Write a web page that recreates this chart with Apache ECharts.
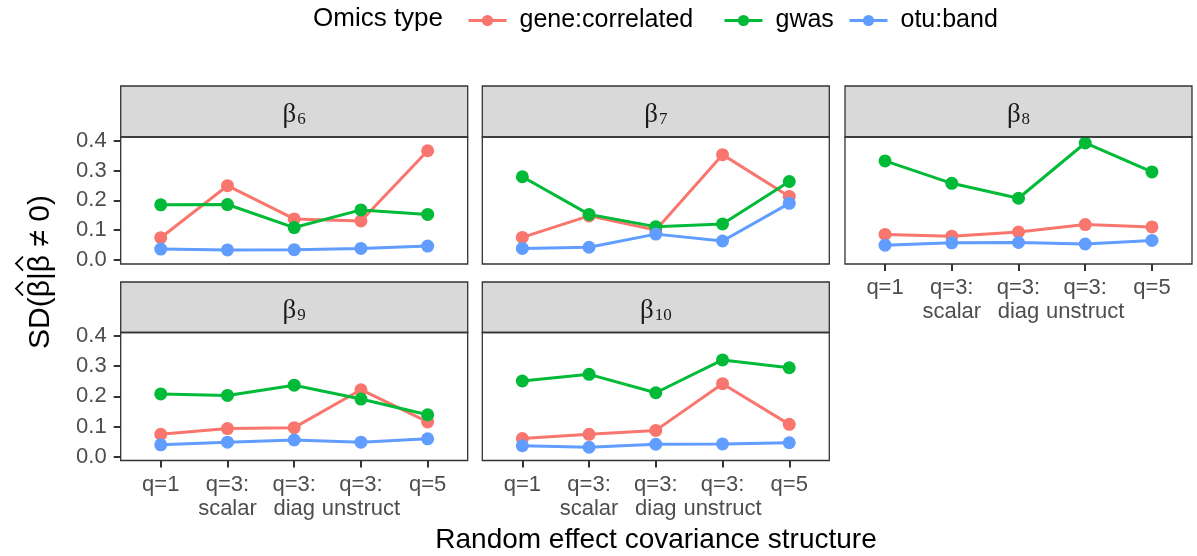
<!DOCTYPE html>
<html>
<head>
<meta charset="utf-8">
<title>SD of beta</title>
<script src="https://cdn.jsdelivr.net/npm/echarts@6/dist/echarts.min.js"></script>
<style>
  html, body { margin: 0; padding: 0; background: #fff; }
  #chart { width: 1197px; height: 556px; }
</style>
</head>
<body>
<div id="chart"></div>
<script>
// categories on the x axis
var categories = ['q=1', 'q=3:\nscalar', 'q=3:\ndiag', 'q=3:\nunstruct', 'q=5'];
// facet labels (beta subscripts)
var panelNames = ['6', '7', '8', '9', '10'];
var omicsTypes = ['gene:correlated', 'gwas', 'otu:band'];
var yTicks = [0, 0.1, 0.2, 0.3, 0.4];

// one row per panel, one value per category
var geneCorrelated = [
  [0.075, 0.249, 0.138, 0.131, 0.366],
  [0.076, 0.148, 0.101, 0.353, 0.213],
  [0.086, 0.080, 0.094, 0.119, 0.111],
  [0.074, 0.093, 0.096, 0.222, 0.115],
  [0.060, 0.074, 0.087, 0.242, 0.107]
];
var gwas = [
  [0.185, 0.186, 0.109, 0.168, 0.153],
  [0.279, 0.153, 0.112, 0.121, 0.263],
  [0.332, 0.257, 0.207, 0.392, 0.295],
  [0.208, 0.203, 0.237, 0.191, 0.139],
  [0.251, 0.273, 0.212, 0.321, 0.295]
];
var otuBand = [
  [0.037, 0.034, 0.035, 0.039, 0.047],
  [0.039, 0.043, 0.087, 0.064, 0.190],
  [0.050, 0.058, 0.059, 0.054, 0.066],
  [0.039, 0.048, 0.055, 0.048, 0.059],
  [0.036, 0.031, 0.041, 0.042, 0.046]
];

var colors = ['#F8766D', '#00BA38', '#619CFF'];
var seriesValues = [geneCorrelated, gwas, otuBand];

// layout of the facet grid (ggplot-like expansion on both axes)
var panelLefts = [120.7, 482.3, 845];
var panelW = 347;
var stripTops = [86, 282];
var stripBottoms = [137, 332.5];
var panelBottoms = [264, 460.5];
var yMin = -0.013, yMax = 0.412;
var font = "'Liberation Sans', Arial, sans-serif";
var xTicks = categories.map(function (c, k) { return k; });

var grids = [], xAxes = [], yAxes = [], series = [], graphics = [];

panelNames.forEach(function (name, i) {
  var row = i < 3 ? 0 : 1;
  var col = i % 3;
  var pl = panelLefts[col];
  var showX = i >= 2;
  var showY = col === 0;

  grids.push({
    left: pl, width: panelW,
    top: stripBottoms[row], height: panelBottoms[row] - stripBottoms[row]
  });

  xAxes.push({
    type: 'value', gridIndex: i, min: -0.6, max: categories.length - 0.4,
    axisLine: { show: false, onZero: false },
    splitLine: { show: false },
    axisTick: { show: showX, length: 7, customValues: xTicks, lineStyle: { color: '#333', width: 2 } },
    axisLabel: {
      show: showX, margin: 12, color: '#4D4D4D', fontSize: 22, fontFamily: font,
      lineHeight: 24, align: 'center', customValues: xTicks,
      formatter: function (v) { return categories[Math.round(v)] || ''; }
    }
  });

  yAxes.push({
    type: 'value', gridIndex: i, min: yMin, max: yMax,
    axisLine: { show: false, onZero: false },
    splitLine: { show: false },
    axisTick: { show: showY, length: 7, customValues: yTicks, lineStyle: { color: '#333', width: 2 } },
    axisLabel: {
      show: showY, margin: 14, color: '#4D4D4D', fontSize: 22, fontFamily: font,
      customValues: yTicks,
      formatter: function (v) { return v.toFixed(1); }
    }
  });

  omicsTypes.forEach(function (t, s) {
    series.push({
      name: t, type: 'line', xAxisIndex: i, yAxisIndex: i,
      data: seriesValues[s][i].map(function (v, k) { return [k, v]; }),
      symbol: 'circle', symbolSize: 13, clip: false,
      lineStyle: { color: colors[s], width: 3 },
      itemStyle: { color: colors[s] },
      emphasis: { disabled: true }
    });
  });

  // strip
  graphics.push({
    type: 'rect', z: 1,
    shape: { x: pl, y: stripTops[row], width: panelW, height: stripBottoms[row] - stripTops[row] },
    style: { fill: '#D9D9D9', stroke: '#333', lineWidth: 1.3 }
  });
  graphics.push({
    type: 'text', z: 2,
    x: pl + panelW / 2, y: (stripTops[row] + stripBottoms[row]) / 2 + 1,
    style: {
      text: '{b|β}{s|' + name + '}',
      align: 'center', verticalAlign: 'middle',
      rich: {
        b: { fontSize: 27, fontFamily: "'Liberation Serif', serif", fill: '#1A1A1A', lineHeight: 32, verticalAlign: 'bottom' },
        s: { fontSize: 17, fontFamily: "'Liberation Serif', serif", fill: '#1A1A1A', lineHeight: 32, verticalAlign: 'bottom', padding: [11, 0, 0, 1] }
      }
    }
  });
  // panel border
  graphics.push({
    type: 'rect', z: 100,
    shape: { x: pl, y: stripBottoms[row], width: panelW, height: panelBottoms[row] - stripBottoms[row] },
    style: { fill: null, stroke: '#333', lineWidth: 1.3 }
  });
});

// y axis title with hats over the betas
var yTitleFont = '30px ' + font;
var ctx = document.createElement('canvas').getContext('2d');
ctx.font = yTitleFont;
var yTitle = 'SD(β|β ≠ 0)';
var wAll = ctx.measureText(yTitle).width;
var wBeta = ctx.measureText('β').width;
var hatCenters = [ctx.measureText('SD(').width, ctx.measureText('SD(β|').width].map(function (w) {
  return -wAll / 2 + w + wBeta / 2;
});
var yTitleChildren = [{
  type: 'text', x: 0, y: 0,
  style: { text: yTitle, font: yTitleFont, fill: '#000', align: 'center', verticalAlign: 'middle' }
}];
hatCenters.forEach(function (cx) {
  yTitleChildren.push({
    type: 'polyline',
    shape: { points: [[cx - 7, -18], [cx, -25], [cx + 7, -18]] },
    style: { stroke: '#000', lineWidth: 1.8, fill: null }
  });
});
graphics.push({ type: 'group', x: 41, y: 272, rotation: Math.PI / 2, children: yTitleChildren });

graphics.push({
  type: 'text', x: 656, y: 540,
  style: {
    text: 'Random effect covariance structure', fontSize: 28, fontFamily: font, fill: '#000',
    align: 'center', verticalAlign: 'middle'
  }
});

var legendLefts = [462, 718, 843];
var legends = omicsTypes.map(function (t, s) {
  return {
    data: [t], left: legendLefts[s], top: 3, itemWidth: 38, itemHeight: 14,
    selectedMode: false,
    lineStyle: { width: 3 },
    textStyle: { fontSize: 25, fontFamily: font, color: '#000', padding: [0, 0, 0, 8] }
  };
});

var chart = echarts.init(document.getElementById('chart'));
chart.setOption({
  animation: false,
  title: {
    text: 'Omics type', left: 308, top: 1,
    textStyle: { fontSize: 26, fontWeight: 'normal', fontFamily: font, color: '#000' }
  },
  legend: legends,
  grid: grids,
  xAxis: xAxes,
  yAxis: yAxes,
  series: series,
  graphic: graphics
});
</script>
</body>
</html>
